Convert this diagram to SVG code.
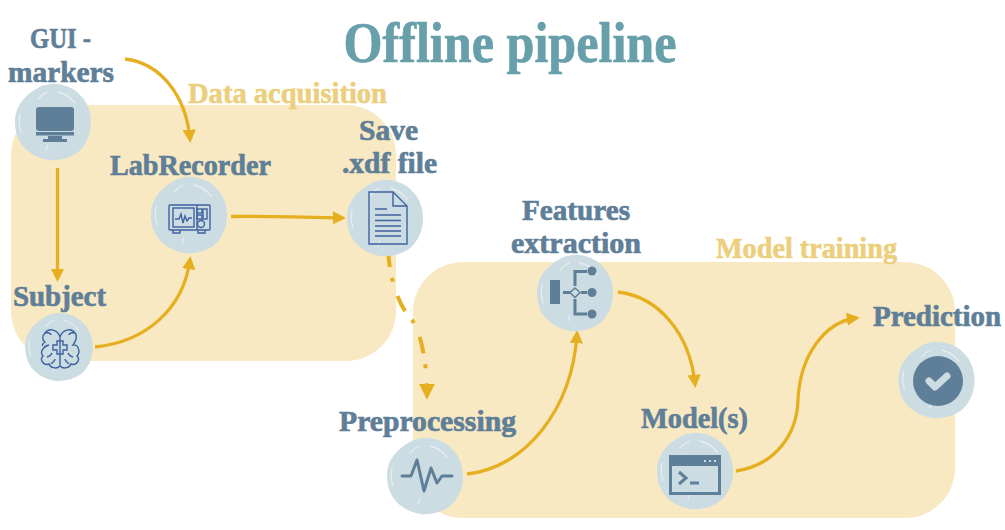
<svg xmlns="http://www.w3.org/2000/svg" xmlns:xlink="http://www.w3.org/1999/xlink" width="1005" height="530" viewBox="0 0 1005 530">
<style>
.lbl{font-family:"Liberation Serif","DejaVu Serif",serif;font-weight:700;font-size:30px;fill:#5f7f98;stroke:#5f7f98;stroke-width:.7;}
.sec{font-family:"Liberation Serif","DejaVu Serif",serif;font-weight:700;font-size:29px;fill:#eccf7c;stroke:#eccf7c;stroke-width:.6;}
.panel{fill:#f8e9c3;}
.con{fill:none;stroke:#e6af1f;stroke-width:3.300;}
.thin{fill:none;stroke:#3f62a0;stroke-width:1.4;}
.ico{fill:#5f7f98;}
.icol{fill:none;stroke:#5f7f98;stroke-width:3;}
.hl{fill:none;stroke:#e6eef1;stroke-width:1.3;stroke-linecap:round;}
</style>
<defs>
<marker id="arr" viewBox="0 0 10 10" refX="7" refY="5" markerWidth="4" markerHeight="4" orient="auto" markerUnits="strokeWidth"><path d="M0 0L10 5L0 10Z" fill="#e6af1f"/></marker>
<g id="blob">
<path d="M-3-38C8-39 20-35 27-27C35-20 38-9 38 1C38 12 33 24 24 31C15 37 4 39-5 38C-16 36-27 30-33 20C-38 11-39 0-37-9C-34-20-25-29-15-34C-11-37-7-37-3-38Z" fill="#cbdce2"/>
<path class="hl" d="M-15-23Q-11-28-6-30M5-30Q15-28 22-19M-33-8Q-35 0-32 10M-7 28Q-6 26-5 23"/>
</g>
</defs>
<rect class="panel" x="11" y="105" width="385" height="256" rx="50"/>
<rect class="panel" x="413" y="262" width="542" height="256" rx="50"/>
<text x="510" y="62" text-anchor="middle" font-family="Liberation Serif, serif" font-weight="700" font-size="56" fill="#679faa" stroke="#679faa" stroke-width=".7" textLength="333" lengthAdjust="spacingAndGlyphs">Offline pipeline</text>
<text class="sec" x="188" y="103" textLength="199" lengthAdjust="spacingAndGlyphs">Data acquisition</text>
<text class="sec" x="716" y="258" textLength="181" lengthAdjust="spacingAndGlyphs">Model training</text>
<g id="connectors">
<path class="con" marker-end="url(#arr)" d="M125 59C160 63 186 95 190 139"/>
<path class="con" marker-end="url(#arr)" d="M57.500 168V278"/>
<path class="con" marker-end="url(#arr)" d="M231 216.500C270 216 305 217 342 218"/>
<path class="con" marker-end="url(#arr)" d="M95 347C145 342 183 310 190 260"/>
<path class="con" style="stroke-width:4" marker-end="url(#arr)" stroke-dasharray="17 11 4 15" d="M388 250C390 280 398 305 412 320C422 335 427 365 427 395"/>
<path class="con" marker-end="url(#arr)" d="M467 474C525 468 572 410 577 334"/>
<path class="con" marker-end="url(#arr)" d="M618 292C660 297 690 335 695 384"/>
<path class="con" marker-end="url(#arr)" d="M736 471C775 465 797 435 798 400C800 355 825 322 856 318"/>
</g>
<g id="gui">
<text class="lbl" x="30" y="48" textLength="61" lengthAdjust="spacingAndGlyphs">GUI -</text>
<text class="lbl" x="8" y="82" textLength="106" lengthAdjust="spacingAndGlyphs">markers</text>
<use xlink:href="#blob" href="#blob" transform="translate(53 122)"/>
<rect class="ico" x="36" y="107" width="38" height="24" rx="3"/>
<rect class="ico" x="36" y="132" width="38" height="3.500"/>
<path class="ico" d="M48 136H62V139H67V142H43V139H48Z"/>
</g>
<g id="labrecorder">
<text class="lbl" x="110" y="175" textLength="161" lengthAdjust="spacingAndGlyphs">LabRecorder</text>
<use xlink:href="#blob" href="#blob" transform="translate(189 215)"/>
<rect class="thin" x="169" y="205" width="41" height="25" rx="1"/>
<rect class="thin" x="173" y="208" width="21" height="19"/>
<path class="thin" d="M197 205V230M175 219H179L181 214L183 223L185 216L187 221L189 218H192M173 230V233H180V230M198 230V233H205V230"/>
<rect class="thin" x="197" y="209" width="5" height="4"/><rect class="thin" x="197" y="215" width="5" height="4"/>
<rect class="thin" x="203" y="209" width="4" height="10"/>
<circle class="thin" cx="201" cy="224" r="3.500"/>
</g>
<g id="save">
<text class="lbl" x="359" y="140" textLength="59" lengthAdjust="spacingAndGlyphs">Save</text>
<text class="lbl" x="342" y="173" textLength="95" lengthAdjust="spacingAndGlyphs">.xdf file</text>
<use xlink:href="#blob" href="#blob" transform="translate(385 218)"/>
<path class="thin" d="M369 192H393L407 206V244H369ZM393 192V206H407M375 209H387M375 215H401M375 220.500H401M375 226H401M375 231H401M375 236H401"/>
</g>
<g id="subject">
<text class="lbl" x="13" y="306" textLength="93" lengthAdjust="spacingAndGlyphs">Subject</text>
<use xlink:href="#blob" href="#blob" transform="translate(59 347) scale(.89)"/>
<path class="thin" d="M60 337C58 330 49 327 45 333C51 332 51 335 51 335M60 337V366C56 370 50 367 49 364C44 366 39 360 43 356C39 352 44 346 49 345M60 337C62 330 71 327 75 333C69 332 69 335 69 335M60 366C64 370 70 367 71 364C76 366 81 360 77 356C81 352 78 344 73 345C77 340 77 335 75 333M45 333C42 336 42 340 45 342C42 344 42 345 43 346"/>
<path class="thin" d="M57 341H63V345H67V350H63V354H57V350H53V345H57Z"/>
<path class="thin" d="M47 357C51 356 52 353 52 353M73 357C69 356 68 353 68 353M51 364C53 362 55 361 55 359M69 364C67 362 65 361 65 359"/>
</g>
<g id="features">
<text class="lbl" x="522" y="220" textLength="108" lengthAdjust="spacingAndGlyphs">Features</text>
<text class="lbl" x="511" y="253" textLength="130" lengthAdjust="spacingAndGlyphs">extraction</text>
<use xlink:href="#blob" href="#blob" transform="translate(575 293)"/>
<rect class="ico" x="550" y="280" width="10" height="24"/>
<path class="icol" d="M563 292.500H572M581 292.500H587M575 286V271.500H587M575 299V314H587"/>
<path d="M575 288L580 292.500L575 297.500L570 292.500Z" fill="#cbdce2" stroke="#5f7f98" stroke-width="1.500"/>
<circle class="ico" cx="592" cy="271" r="4.500"/><circle class="ico" cx="592" cy="292.500" r="4.500"/><circle class="ico" cx="592" cy="314" r="4.500"/>
</g>
<g id="preprocessing">
<text class="lbl" x="339" y="431" textLength="177" lengthAdjust="spacingAndGlyphs">Preprocessing</text>
<use xlink:href="#blob" href="#blob" transform="translate(425 476)"/>
<path class="icol" stroke-width="3.500" stroke-linejoin="round" stroke-linecap="round" d="M402 476H411L417 460L424 491L431 468L437 483L442 476H452"/>
</g>
<g id="model">
<text class="lbl" x="641" y="428" textLength="107" lengthAdjust="spacingAndGlyphs">Model(s)</text>
<use xlink:href="#blob" href="#blob" transform="translate(695 471)"/>
<rect x="670.500" y="456.500" width="49" height="37" fill="none" stroke="#5f7f98" stroke-width="3"/>
<rect class="ico" x="670" y="456" width="50" height="10"/>
<path d="M704 460h2v2h-2zM709 460h2v2h-2zM714 460h2v2h-2z" fill="#cbdce2"/>
<path class="icol" stroke-width="2" d="M679 472L686 478L679 484M690 483H699"/>
</g>
<g id="prediction">
<text class="lbl" x="873" y="326" textLength="128" lengthAdjust="spacingAndGlyphs">Prediction</text>
<use xlink:href="#blob" href="#blob" transform="translate(936.500 380)"/>
<circle class="ico" cx="938" cy="381" r="25"/>
<path d="M929 381L935 387L947 376" fill="none" stroke="#cbdce2" stroke-width="7" stroke-linecap="round" stroke-linejoin="round"/>
</g>
</svg>
